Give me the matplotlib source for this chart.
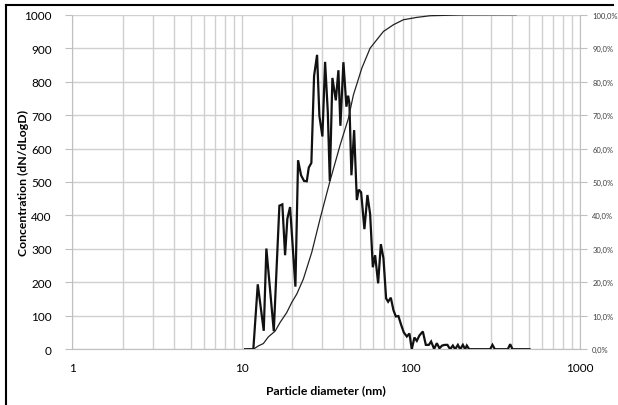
import matplotlib
matplotlib.use("Agg")
import matplotlib.pyplot as plt
from matplotlib.ticker import FixedLocator, FuncFormatter, NullFormatter
from matplotlib.lines import Line2D

# diametro (nm) y concentracion (dN/dLogD)
diametro = [10.49, 11.74, 12.47, 13.53, 14.02, 15.51, 16.74, 17.43, 18.09, 18.66,
            19.36, 20.82, 21.59, 22.49, 23.43, 24.31, 24.98, 25.88, 26.85, 27.97,
            28.87, 30.07, 31.20, 32.37, 33.26, 34.46, 36.10, 37.40, 38.43, 40.04,
            41.71, 42.69, 43.45, 44.65, 46.33, 48.06, 49.39, 50.96, 53.30, 55.53,
            57.61, 59.77, 61.67, 64.25, 66.66, 69.06, 71.62, 73.61, 76.36, 79.12,
            81.75, 84.70, 87.86, 91.16, 94.96, 98.38, 101.6, 105.3, 108.8, 112.7,
            118.1, 123.0, 128.2, 132.2, 137.7, 142.9, 148.1, 153.6, 159.4, 165.1,
            171.3, 177.7, 183.4, 190.3, 196.3, 203.7, 210.1, 215.0, 221.9, 295.4,
            304.8, 315.0, 375.9, 388.0, 400.4, 504.7]
concentracion = [0, 0, 194, 55, 301, 54, 429, 433, 281, 390,
                 425, 187, 565, 520, 503, 502, 543, 557, 817, 880,
                 697, 636, 859, 709, 503, 811, 744, 834, 668, 858,
                 725, 758, 735, 520, 655, 446, 477, 469, 359, 461,
                 404, 245, 281, 197, 314, 272, 152, 142, 154, 117,
                 98, 99, 73, 50, 38, 47, 0, 35, 25, 41,
                 53, 13, 13, 23, 1, 18, 3, 11, 13, 13,
                 0, 11, 0, 13, 0, 13, 0, 11, 0, 0,
                 13, 0, 0, 15, 0, 0]

# curva acumulada (%)
diametro_acum = [11.74, 12.58, 13.46, 14.41, 15.79, 16.90, 18.52, 19.82, 21.22, 23.21,
                 26.03, 29.14, 33.40, 38.27, 42.85, 45.87, 51.43, 57.61, 69.06, 79.12,
                 90.67, 108.8, 130.5, 204.5, 421.0]
acumulado = [0, 1.0, 1.7, 3.7, 5.4, 8.0, 11.0, 14.0, 16.5, 21.0,
             29.0, 39.0, 50.4, 61.0, 69.0, 76.0, 84.0, 90.0, 95.0, 97.0,
             98.5, 99.2, 99.7, 99.95, 100.0]

ticks_x = [1, 10, 100, 1000]
ticks_y = list(range(0, 1001, 100))
ticks_pct = list(range(0, 101, 10))

plt.rcParams['font.family'] = ['Lato', 'DejaVu Sans']
gris = '#d0d0d0'
eje = '#bfbfbf'

fig = plt.figure(figsize=(6.18, 4.06), dpi=100)
ax = fig.add_axes([0.1173, 0.1374, 0.8207, 0.8239])
ax2 = ax.twinx()

ax.set_xscale('log')
ax.set_xlim(1, 1000)
ax.set_ylim(0, 1000)
ax2.set_ylim(0, 100)

# rejilla
ax.xaxis.set_major_locator(FixedLocator(ticks_x))
minors = [m * 10 ** e for e in range(0, 3) for m in range(2, 10)]
ax.xaxis.set_minor_locator(FixedLocator(minors))
ax.xaxis.set_minor_formatter(NullFormatter())
ax.xaxis.set_major_formatter(FuncFormatter(lambda v, p: f"{int(v)}"))
ax.set_yticks(ticks_y)
ax.grid(True, which='both', axis='x', color=gris, lw=1.0)
ax.grid(True, which='major', axis='y', color=gris, lw=1.0)
ax.set_axisbelow(True)

ax.plot(diametro, concentracion, color='#111111', lw=1.6, solid_joinstyle='miter', zorder=3)
ax2.plot(diametro_acum, acumulado, color='#222222', lw=0.9, zorder=3)

for a in (ax, ax2):
    for s in a.spines.values():
        s.set_visible(False)
ax.spines['left'].set_visible(True)
ax.spines['left'].set_color(eje)
ax.spines['bottom'].set_visible(True)
ax.spines['bottom'].set_color(eje)
ax2.spines['right'].set_visible(True)
ax2.spines['right'].set_color(eje)

ax.tick_params(axis='y', which='major', length=5, color=eje, labelsize=8.5, pad=10)
ax.tick_params(axis='x', which='both', length=0, labelsize=8.5, pad=9)
ax2.set_yticks(ticks_pct)
ax2.yaxis.set_major_formatter(FuncFormatter(lambda v, p: f"{v:.1f}%".replace('.', ',')))
ax2.tick_params(axis='y', length=5, color=eje, labelsize=5.5, pad=4, labelcolor='#404040')

ax.set_ylabel('Concentration (dN/dLogD)', fontsize=8.8, fontweight='bold')
ax.yaxis.set_label_coords(-0.085, 0.5)
ax.set_xlabel('Particle diameter (nm)', fontsize=8.8, fontweight='bold', labelpad=8)

# marco de la imagen
fig.add_artist(Line2D([6 / 618, 613 / 618], [1 - 6 / 406, 1 - 6 / 406], color='black', lw=1.5))
fig.add_artist(Line2D([6 / 618, 6 / 618], [0, 1 - 6 / 406], color='black', lw=1.5))

fig.savefig('out.png', dpi=100)
